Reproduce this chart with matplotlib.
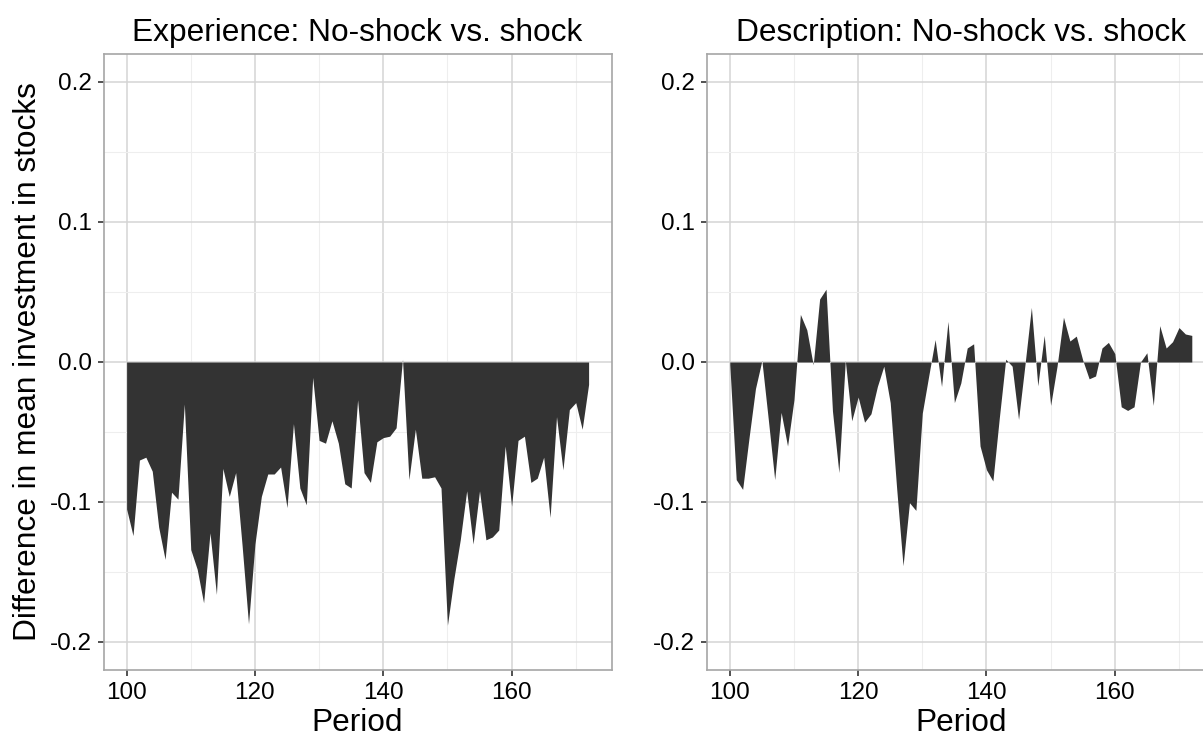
import matplotlib
matplotlib.use('Agg')
import matplotlib.pyplot as plt
from matplotlib.ticker import MultipleLocator

periods = list(range(100, 173))

experience = [-0.105, -0.124, -0.070, -0.068, -0.078, -0.118, -0.141, -0.093, -0.098, -0.030,
              -0.134, -0.148, -0.172, -0.122, -0.166, -0.076, -0.096, -0.079, -0.131, -0.187,
              -0.130, -0.096, -0.080, -0.080, -0.075, -0.104, -0.044, -0.090, -0.102, -0.011,
              -0.056, -0.058, -0.042, -0.058, -0.087, -0.090, -0.027, -0.079, -0.086, -0.057,
              -0.054, -0.053, -0.047, 0.002, -0.084, -0.048, -0.083, -0.083, -0.082, -0.090,
              -0.188, -0.155, -0.127, -0.092, -0.130, -0.092, -0.127, -0.125, -0.120, -0.060,
              -0.103, -0.056, -0.053, -0.086, -0.083, -0.068, -0.111, -0.039, -0.077, -0.034,
              -0.029, -0.048, -0.016]

description = [-0.002, -0.084, -0.091, -0.054, -0.019, 0.001, -0.041, -0.084, -0.036, -0.060,
               -0.027, 0.034, 0.023, -0.002, 0.045, 0.052, -0.035, -0.079, 0.001, -0.042,
               -0.025, -0.043, -0.037, -0.0175, -0.003, -0.029, -0.090, -0.1455, -0.1005, -0.106,
               -0.0365, -0.010, 0.016, -0.0175, 0.029, -0.029, -0.015, 0.010, 0.013, -0.060,
               -0.077, -0.085, -0.040, 0.002, -0.003, -0.041, -0.002, 0.039, -0.017, 0.019,
               -0.031, -0.003, 0.032, 0.015, 0.0185, 0.0014, -0.012, -0.010, 0.010, 0.014,
               0.006, -0.032, -0.0346, -0.032, 0.000, 0.0066, -0.031, 0.026, 0.010, 0.0145,
               0.0246, 0.020, 0.019]

titles = ['Experience: No-shock vs. shock', 'Description: No-shock vs. shock']
ylabel = 'Difference in mean investment in stocks'
xlabel = 'Period'

plt.rcParams['font.family'] = ['Liberation Sans', 'DejaVu Sans']

W, H = 1203, 736
fig = plt.figure(figsize=(W / 100, H / 100), dpi=100)

ax_w = 508.2 / W
ax_h = 616 / H
bottom = (H - 670) / H
lefts = [103.5 / W, 706.7 / W]

for i, (vals, title) in enumerate(zip([experience, description], titles)):
    ax = fig.add_axes([lefts[i], bottom, ax_w, ax_h])
    ax.fill_between(periods, 0, vals, color='#333333', lw=0, zorder=3)
    ax.set_xlim(96.4, 175.6)
    ax.set_ylim(-0.22, 0.22)
    ax.xaxis.set_major_locator(MultipleLocator(20))
    ax.xaxis.set_minor_locator(MultipleLocator(10))
    ax.yaxis.set_major_locator(MultipleLocator(0.1))
    ax.yaxis.set_minor_locator(MultipleLocator(0.05))
    ax.set_yticks([-0.2, -0.1, 0.0, 0.1, 0.2])
    ax.set_yticklabels(['-0.2', '-0.1', '0.0', '0.1', '0.2'])
    ax.grid(which='major', color='#d4d4d4', lw=1.1, zorder=0)
    ax.grid(which='minor', color='#eeeeee', lw=0.8, zorder=0)
    ax.set_axisbelow(True)
    for s in ax.spines.values():
        s.set_color('#a6a6a6')
        s.set_linewidth(1.2)
    ax.tick_params(which='major', length=4.5, width=1.2, color='#333333',
                   labelsize=17.5, labelcolor='#000000', pad=4)
    ax.tick_params(which='minor', length=0)
    ax.set_title(title, fontsize=22.8, pad=9)
    ax.set_xlabel(xlabel, fontsize=22.8, labelpad=3)
    if i == 0:
        ax.set_ylabel(ylabel, fontsize=22.8, labelpad=5)

fig.savefig('out.png', dpi=100)
